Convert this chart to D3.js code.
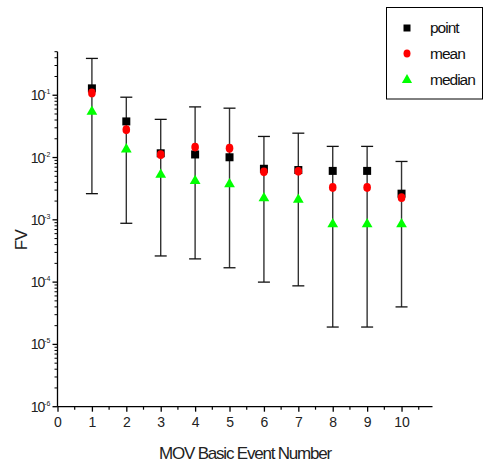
<!DOCTYPE html>
<html><head><meta charset="utf-8">
<script src="https://cdn.jsdelivr.net/npm/d3@7"></script>
<style>body{margin:0;background:#fff}svg{display:block}text{font-family:"Liberation Sans",Arial,sans-serif}</style>
</head><body><svg id="c" width="484" height="467"></svg>
<script>
const events = [1,2,3,4,5,6,7,8,9,10];
const pointVals  = [0.129,0.038,0.0117,0.0112,0.0101,0.0066,0.0063,0.0061,0.0061,0.00263];
const meanVals   = [0.109,0.0279,0.0111,0.0147,0.0141,0.0059,0.0060,0.0033,0.0033,0.00227];
const medianVals = [0.0555,0.0138,0.0054,0.0043,0.0038,0.00227,0.00215,0.00087,0.00087,0.00087];
const upperVals  = [0.39,0.093,0.041,0.065,0.062,0.0218,0.0246,0.0151,0.0151,0.00865];
const lowerVals  = [0.00263,0.00088,0.000263,0.000236,0.00017,0.0001,0.0000871,0.000019,0.000019,0.00004];
const xTicks = [0,1,2,3,4,5,6,7,8,9,10];
const yTicks = [-6,-5,-4,-3,-2,-1];
const seriesNames = ["point","mean","median"];

const svg = d3.select("#c");
const x = d3.scaleLinear().domain([0,10.9]).range([57.5,432.5]);
const y = d3.scaleLog().domain([1e-6,0.5]).range([406.7,51.7]);

// axes
const xAxis = d3.axisBottom(x).tickValues(xTicks).tickSize(5).tickPadding(5).tickFormat(d3.format("d"));
const gx = svg.append("g").attr("transform","translate(0,406.7)").call(xAxis);
gx.select(".domain").attr("d",`M${x(0)},0H${x(10.9)}`).attr("stroke","#000").attr("stroke-width",1.3);
gx.selectAll(".tick line").attr("stroke-width",1.3);
gx.selectAll(".tick text").attr("font-size",14).attr("fill","#222");
const xMinor = d3.range(0.5,10.9,1);
gx.selectAll(".minor").data(xMinor).enter().append("line")
  .attr("x1",d=>x(d)).attr("x2",d=>x(d)).attr("y1",0).attr("y2",3).attr("stroke","#000").attr("stroke-width",1.2);

const gy = svg.append("g").attr("transform","translate(57.5,0)");
gy.append("line").attr("x1",0).attr("x2",0).attr("y1",y(1e-6)).attr("y2",y(0.5)).attr("stroke","#000").attr("stroke-width",1.3);
const minorY = [];
for (let e=-6;e<=-1;e++) for (let m=2;m<=9;m++){ const v=m*Math.pow(10,e); if (v<=0.5) minorY.push(v); }
gy.selectAll(".mn").data(minorY).enter().append("line")
  .attr("x1",-3).attr("x2",0).attr("y1",d=>y(d)).attr("y2",d=>y(d)).attr("stroke","#000").attr("stroke-width",1);
gy.selectAll(".mj").data(yTicks).enter().append("line")
  .attr("x1",-5).attr("x2",0).attr("y1",d=>y(Math.pow(10,d))).attr("y2",d=>y(Math.pow(10,d))).attr("stroke","#000").attr("stroke-width",1.3);
const lab = gy.selectAll(".lb").data(yTicks).enter().append("text")
  .attr("x",-7).attr("y",d=>y(Math.pow(10,d))+5).attr("text-anchor","end").attr("fill","#222");
lab.append("tspan").attr("font-size",14).attr("letter-spacing",-1).text("10");
lab.append("tspan").attr("font-size",7).attr("dy",-6).text(d=>"-"+(-d));

// titles
svg.append("text").attr("transform","translate(27,240) rotate(-90)").attr("text-anchor","middle")
  .attr("font-size",17).attr("letter-spacing",-0.5).attr("fill","#222").text("FV");
svg.append("text").attr("x",245).attr("y",459).attr("text-anchor","middle")
  .attr("font-size",17).attr("letter-spacing",-1.2).attr("fill","#222").text("MOV Basic Event Number");

// error bars
const eb = svg.append("g");
events.forEach((ev,i)=>{
  const cx = x(ev);
  eb.append("line").attr("x1",cx).attr("x2",cx).attr("y1",y(upperVals[i])).attr("y2",y(lowerVals[i])).attr("stroke","#333").attr("stroke-width",1.4);
  [upperVals[i],lowerVals[i]].forEach(v=>{
    eb.append("line").attr("x1",cx-6).attr("x2",cx+6).attr("y1",y(v)).attr("y2",y(v)).attr("stroke","#111").attr("stroke-width",1.3);
  });
});

// markers
const sq = d3.symbol().type(d3.symbolSquare).size(64);
const tri = d3.symbol().type(d3.symbolTriangle).size(50);
svg.append("g").selectAll("path").data(events).enter().append("path")
  .attr("d",sq).attr("transform",(d,i)=>`translate(${x(d)},${y(pointVals[i])})`).attr("fill","#000");
svg.append("g").selectAll("ellipse").data(events).enter().append("ellipse")
  .attr("cx",d=>x(d)).attr("cy",(d,i)=>y(meanVals[i])).attr("rx",3.8).attr("ry",4.4).attr("fill","#ff0000");
svg.append("g").selectAll("path").data(events).enter().append("path")
  .attr("d",tri).attr("transform",(d,i)=>`translate(${x(d)},${y(medianVals[i])+0.5})`).attr("fill","#00ff00");

// legend
const lg = svg.append("g");
lg.append("rect").attr("x",386.5).attr("y",7.5).attr("width",96).attr("height",91.5).attr("fill","#fff").attr("stroke","#000").attr("stroke-width",1);
const ly = [28,53.5,80];
lg.append("path").attr("d",d3.symbol().type(d3.symbolSquare).size(49)).attr("transform",`translate(407,${ly[0]})`).attr("fill","#000");
lg.append("ellipse").attr("cx",407).attr("cy",ly[1]).attr("rx",3.5).attr("ry",4).attr("fill","#ff0000");
lg.append("path").attr("d",d3.symbol().type(d3.symbolTriangle).size(45)).attr("transform",`translate(407,${ly[2]})`).attr("fill","#00ff00");
lg.selectAll("text").data(seriesNames).enter().append("text")
  .attr("x",430).attr("y",(d,i)=>ly[i]+5).attr("font-size",15.5).attr("letter-spacing",-1).attr("fill","#111").text(d=>d);
</script></body></html>
